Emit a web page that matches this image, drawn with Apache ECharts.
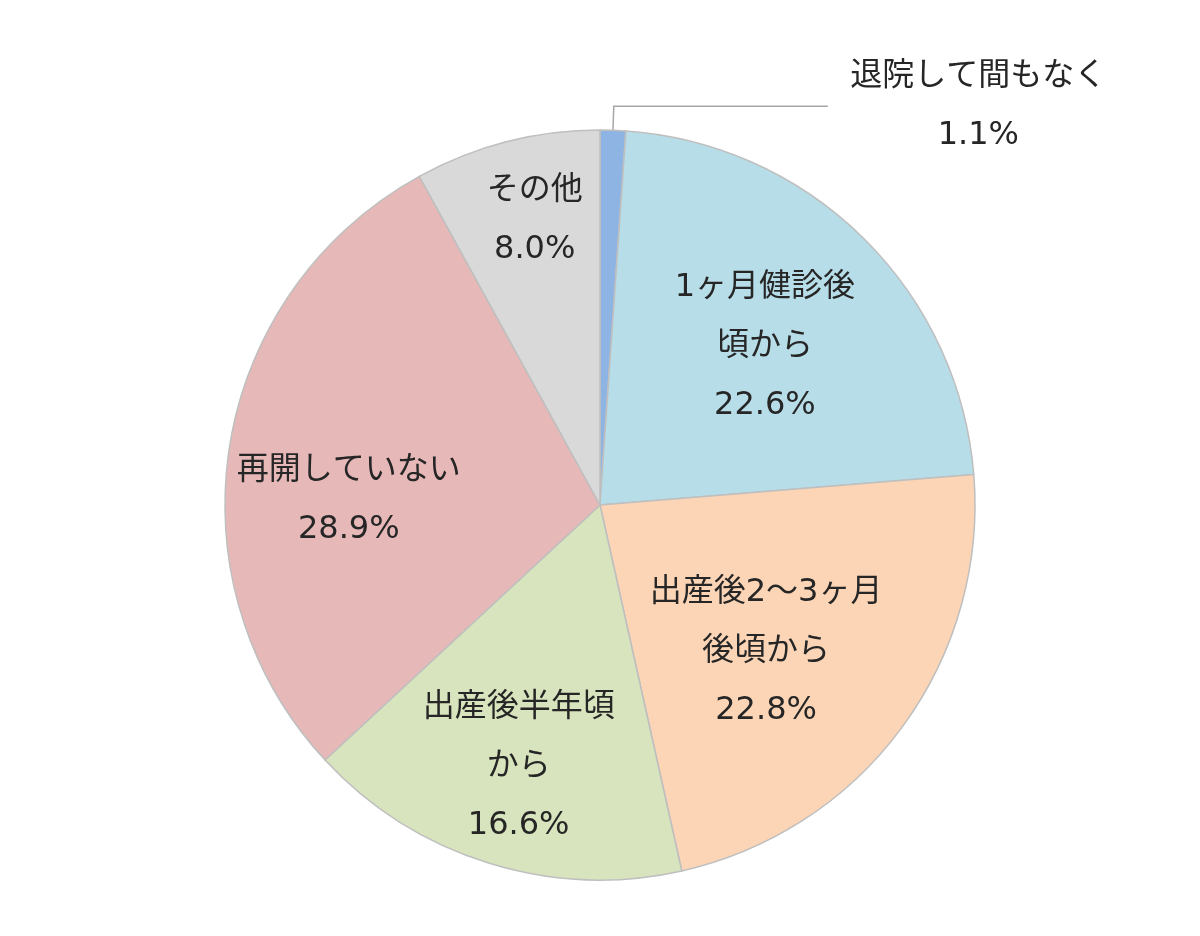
<!DOCTYPE html>
<html>
<head>
<meta charset="utf-8">
<script src="https://cdn.jsdelivr.net/npm/echarts@6/dist/echarts.min.js"></script>
<style>
  html, body { margin: 0; padding: 0; background: #fff; }
  #main { width: 1200px; height: 936px; }
</style>
</head>
<body>
<div id="main"></div>
<script>
// 項目名（ラベル表示用に改行入り）
var names = [
  '退院して間もなく',
  '1ヶ月健診後\n頃から',
  '出産後2～3ヶ月\n後頃から',
  '出産後半年頃\nから',
  '再開していない',
  'その他'
];
// 割合 (%)
var values = [1.1, 22.6, 22.8, 16.6, 28.9, 8.0];
var colors = ['#8EB4E3', '#B7DDE8', '#FBD5B5', '#D8E4BD', '#E6B9B8', '#D9D9D9'];
// ラベル位置：半径に対する割合と、扇形中央からの角度のずれ（度）
var labelRadius = [null, 0.61, 0.59, 0.73, 0.67, 0.78];
var labelAngleShift = [0, 1.5, 5, 0, -8, 1.5];

var R = 375;
var CY = 505;

var data = values.map(function (v, i) {
  var item = { name: names[i], value: v, itemStyle: { color: colors[i] } };
  if (i === 0) {
    item.label = {
      position: 'outside',
      formatter: '{a|{b}}\n{a|{c}%}',
      distanceToLabelLine: 28,
      rich: {
        a: { width: 245, align: 'center', fontSize: 32, lineHeight: 59,
             color: '#262626', fontFamily: '"DejaVu Sans", "Noto Sans CJK JP"' }
      }
    };
    item.labelLine = { show: true, length: 24, length2: 214 };
  }
  return item;
});

var myChart = echarts.init(document.getElementById('main'));
var option = {
  backgroundColor: '#fff',
  animation: false,
  series: [
    {
      type: 'pie',
      center: ['50%', CY],
      radius: [0, R],
      startAngle: 90,
      clockwise: true,
      avoidLabelOverlap: false,
      data: data,
      itemStyle: { borderColor: '#BFBFBF', borderWidth: 1.5 },
      emphasis: { disabled: true },
      label: {
        show: true,
        position: 'inside',
        formatter: function (p) { return p.name + '\n' + p.value.toFixed(1) + '%'; },
        fontSize: 32,
        lineHeight: 59,
        color: '#262626',
        fontFamily: '"DejaVu Sans", "Noto Sans CJK JP"'
      },
      labelLine: { lineStyle: { color: '#A6A6A6', width: 1.5 } },
      // 内側ラベルの位置を調整（扇形の中心角を基準に極座標で置き直す）
      labelLayout: function (p) {
        var k = labelRadius[p.dataIndex];
        if (!k) return;
        var cx = myChart.getWidth() / 2;
        var lr = p.labelRect;
        var lx = lr.x + lr.width / 2 - cx;
        var ly = lr.y + lr.height / 2 - CY;
        var ang = Math.atan2(lx, -ly) + labelAngleShift[p.dataIndex] * Math.PI / 180;
        var r = k * R;
        return {
          x: cx + r * Math.sin(ang),
          y: CY - r * Math.cos(ang),
          align: 'center',
          verticalAlign: 'middle'
        };
      }
    }
  ]
};
myChart.setOption(option);
</script>
</body>
</html>
